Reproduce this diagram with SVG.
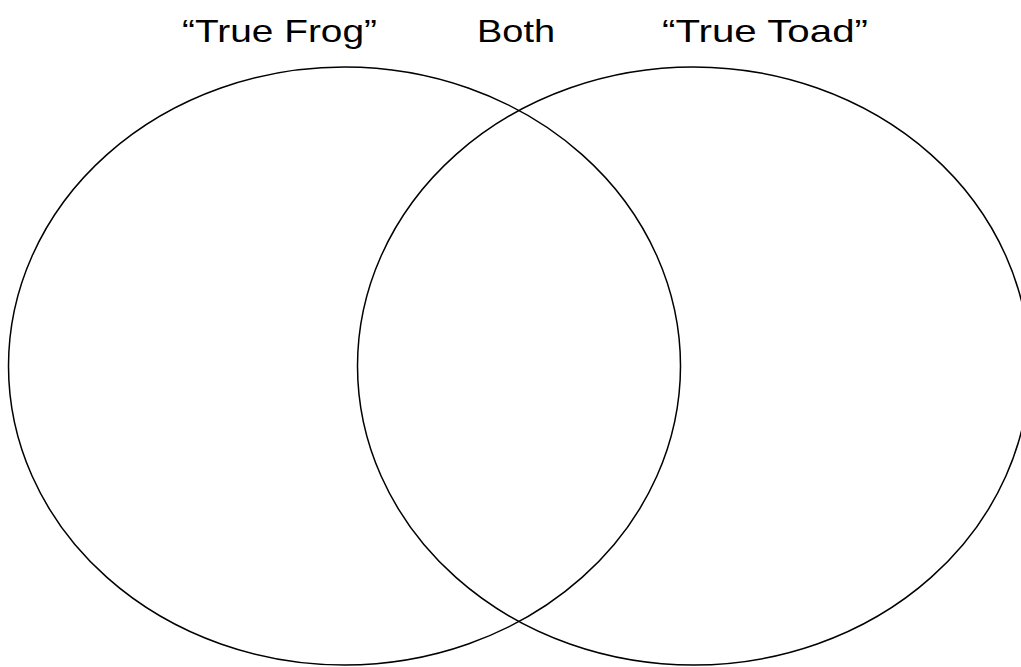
<svg xmlns="http://www.w3.org/2000/svg" width="1021" height="667" viewBox="0 0 1021 667">
<style>
.c{fill:none;stroke:#000;stroke-width:1.5}
.t{font-family:"Liberation Sans",Arial,sans-serif;font-size:32px;fill:#000}
</style>
<rect width="1021" height="667" fill="#fff"/>
<g id="frog"><ellipse class="c" cx="344.5" cy="366" rx="336" ry="299"/></g>
<g id="toad"><ellipse class="c" cx="693.5" cy="366" rx="336" ry="299"/></g>
<g id="labels">
<text class="t" x="182" y="42" textLength="195" lengthAdjust="spacingAndGlyphs">“True Frog”</text>
<text class="t" x="477" y="42" textLength="78" lengthAdjust="spacingAndGlyphs">Both</text>
<text class="t" x="662" y="42" textLength="206" lengthAdjust="spacingAndGlyphs">“True Toad”</text>
</g>
</svg>
